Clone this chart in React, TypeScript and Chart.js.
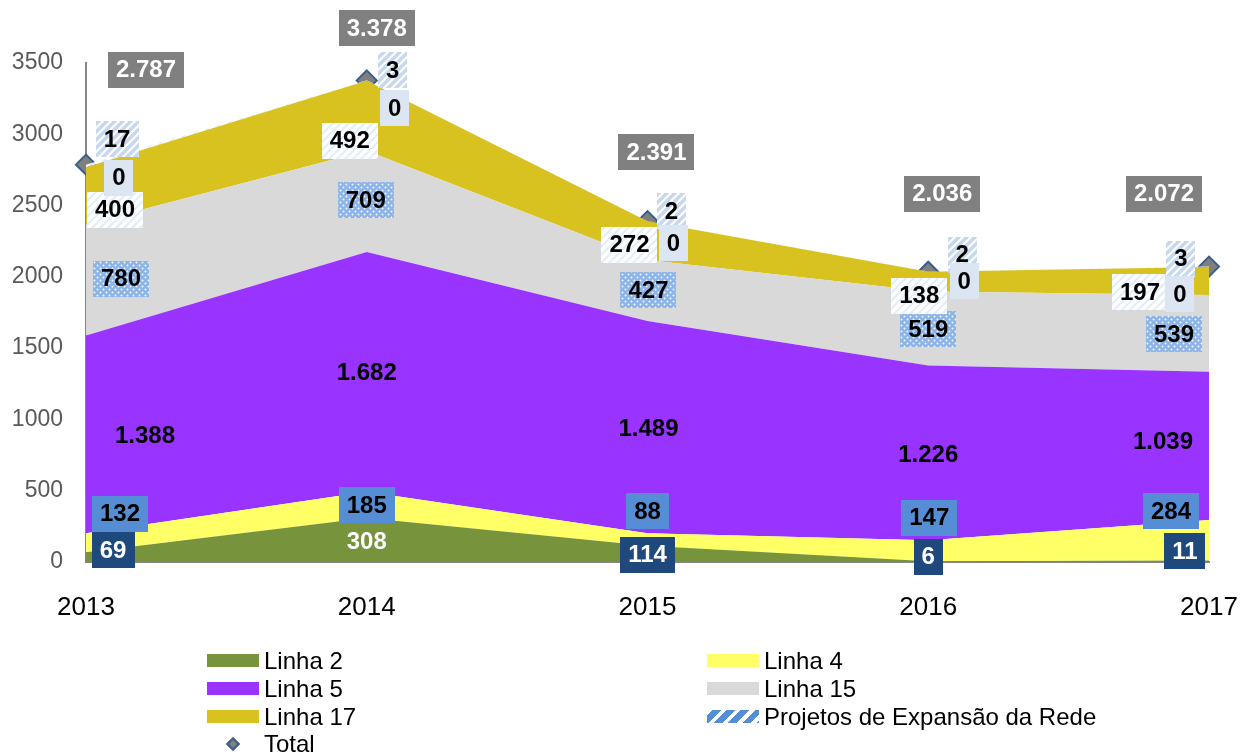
import React, { useEffect, useRef } from 'react';
import { Chart, registerables } from 'chart.js';

Chart.register(...registerables);

const FONT = '"Liberation Sans", Arial, Helvetica, sans-serif';

// ---- data ----
const YEARS = ['2013', '2014', '2015', '2016', '2017'];
const LINHA2 = [69, 308, 114, 6, 11];
const LINHA4 = [132, 185, 88, 147, 284];
const LINHA5 = [1388, 1682, 1489, 1226, 1039];
const LINHA15 = [780, 709, 427, 519, 539];
const LINHA17 = [400, 492, 272, 138, 197];
const PROJETOS = [17, 3, 2, 2, 3];
const SERIE_ZERO = [0, 0, 0, 0, 0];
const TOTAL = [2787, 3378, 2391, 2036, 2072];
const Y_MIN = 0;
const Y_MAX = 3500;
const Y_STEP = 500;

// ---- label layout (pixel nudges from the anchor, like manual Excel placement) ----
const OFF_L2 = [[27, -7], [0, 1], [0, 1], [0, -5], [-24, -10]];
const OFF_L4 = [[34, -29], [0, 0], [0, -28], [1, -33], [-38, -29]];
const OFF_L5 = [[59, 1], [0, 1], [1, 1], [0, 2], [-46, -5]];
const OFF_L15 = [[35, -1], [-1, -1], [1, 0], [0, 1], [-35, 1]];
const OFF_L17 = [[29, 14], [-17, 25], [-18, 4], [-9, 14], [-69, 11]];
const OFF_PROJ = [[31, -27], [26, -10], [24, -10], [34, -17], [-28, -8]];
const OFF_ZERO = [[33, 13], [28, 28], [26, 22], [36, 10], [-29, 28]];
const OFF_TOTAL = [[60, -95], [10, -52], [9, -69], [14, -78], [-45, -73]];

function fmt(v: number): string {
  return String(v).replace(/\B(?=(\d{3})+(?!\d))/g, '.');
}

function makeTile(size: number, draw: (c: CanvasRenderingContext2D) => void): HTMLCanvasElement {
  const t = document.createElement('canvas');
  t.width = size;
  t.height = size;
  const c = t.getContext('2d')!;
  draw(c);
  return t;
}

function stripeTile(base: string, stripe: string, lw: number, size: number) {
  return makeTile(size, (c) => {
    c.fillStyle = base;
    c.fillRect(0, 0, size, size);
    c.strokeStyle = stripe;
    c.lineWidth = lw;
    c.beginPath();
    c.moveTo(-size, size * 2);
    c.lineTo(size * 2, -size);
    c.moveTo(-size, size);
    c.lineTo(size, -size);
    c.moveTo(0, size * 2);
    c.lineTo(size * 2, 0);
    c.stroke();
  });
}

function dotTile() {
  return makeTile(6, (c) => {
    c.fillStyle = '#8DB4E6';
    c.fillRect(0, 0, 6, 6);
    c.fillStyle = 'rgba(255,255,255,0.9)';
    c.beginPath();
    c.arc(1.5, 1.5, 1, 0, Math.PI * 2);
    c.arc(4.5, 4.5, 1, 0, Math.PI * 2);
    c.fill();
  });
}

const labelPlugin = {
  id: 'valueLabels',
  afterDatasetsDraw(chart: any) {
    const ctx: CanvasRenderingContext2D = chart.ctx;
    const xs = chart.scales.x;
    const ys = chart.scales.y;
    const dotted = ctx.createPattern(dotTile(), 'repeat');
    const stripeBlue = ctx.createPattern(stripeTile('#C6D9F1', '#FFFFFF', 2, 8), 'repeat');
    const stripeWhite = ctx.createPattern(stripeTile('#FFFFFF', '#E3ECF7', 2, 8), 'repeat');

    const stacked = [
      { values: LINHA2, off: OFF_L2, bg: (i: number) => (i === 1 ? null : '#1F497D'), color: '#FFFFFF' },
      { values: LINHA4, off: OFF_L4, bg: () => '#558ED5', color: '#000000' },
      { values: LINHA5, off: OFF_L5, bg: () => null, color: '#000000' },
      { values: LINHA15, off: OFF_L15, bg: () => dotted, color: '#000000' },
      { values: LINHA17, off: OFF_L17, bg: () => stripeWhite, color: '#000000' },
      { values: PROJETOS, off: OFF_PROJ, bg: () => stripeBlue, color: '#000000' },
      { values: SERIE_ZERO, off: OFF_ZERO, bg: () => '#DCE6F2', color: '#000000' },
    ];

    ctx.save();
    ctx.font = `bold 24px ${FONT}`;
    ctx.textAlign = 'center';
    ctx.textBaseline = 'middle';

    const drawLabel = (txt: string, x: number, y: number, bg: any, color: string) => {
      const w = ctx.measureText(txt).width + 16;
      const h = 36;
      if (bg) {
        ctx.fillStyle = bg;
        ctx.fillRect(Math.round(x - w / 2), Math.round(y - h / 2), Math.round(w), h);
      }
      ctx.fillStyle = color;
      ctx.fillText(txt, x, y + 1);
    };

    const cum = YEARS.map(() => 0);
    stacked.forEach((s) => {
      s.values.forEach((v, i) => {
        const mid = cum[i] + v / 2;
        const x = xs.getPixelForValue(i) + s.off[i][0];
        const y = ys.getPixelForValue(mid) + s.off[i][1];
        drawLabel(fmt(v), x, y, s.bg(i), s.color);
      });
      s.values.forEach((v, i) => {
        cum[i] += v;
      });
    });

    TOTAL.forEach((v, i) => {
      const x = xs.getPixelForValue(i) + OFF_TOTAL[i][0];
      const y = ys.getPixelForValue(v) + OFF_TOTAL[i][1];
      drawLabel(fmt(v), x, y, '#808080', '#FFFFFF');
    });
    ctx.restore();
  },
};

const legendRows = [
  [
    { label: 'Linha 2', kind: 'fill', color: '#77933C' },
    { label: 'Linha 4', kind: 'fill', color: '#FFFF66' },
  ],
  [
    { label: 'Linha 5', kind: 'fill', color: '#9933FF' },
    { label: 'Linha 15', kind: 'fill', color: '#D9D9D9' },
  ],
  [
    { label: 'Linha 17', kind: 'fill', color: '#D8C21F' },
    { label: 'Projetos de Expansão da Rede', kind: 'stripe', color: '#558ED5' },
  ],
  [{ label: 'Total', kind: 'diamond', color: '#7F7F7F' }],
];

export default function App() {
  const ref = useRef<HTMLCanvasElement | null>(null);

  useEffect(() => {
    const canvas = ref.current!;
    const pctx = canvas.getContext('2d')!;
    const projArea = pctx.createPattern(stripeTile('#FFFFFF', '#E3ECF7', 2, 8), 'repeat');
    const areaBase = {
      borderWidth: 0,
      borderColor: 'rgba(0,0,0,0)',
      pointRadius: 0,
      pointHoverRadius: 0,
      tension: 0,
      stack: 'linhas',
    };
    const chart = new Chart(canvas, {
      type: 'line',
      data: {
        labels: YEARS,
        datasets: [
          { ...areaBase, label: 'Linha 2', data: LINHA2, backgroundColor: '#77933C', fill: 'origin' },
          { ...areaBase, label: 'Linha 4', data: LINHA4, backgroundColor: '#FFFF66', fill: '-1' },
          { ...areaBase, label: 'Linha 5', data: LINHA5, backgroundColor: '#9933FF', fill: '-1' },
          { ...areaBase, label: 'Linha 15', data: LINHA15, backgroundColor: '#D9D9D9', fill: '-1' },
          { ...areaBase, label: 'Linha 17', data: LINHA17, backgroundColor: '#D8C21F', fill: '-1' },
          { ...areaBase, label: 'Projetos de Expansão da Rede', data: PROJETOS, backgroundColor: projArea as any, fill: '-1' },
          {
            label: 'Total',
            data: TOTAL,
            stack: 'total',
            showLine: false,
            fill: false,
            clip: false,
            pointStyle: 'rectRot',
            pointRadius: 10,
            pointHoverRadius: 10,
            pointBackgroundColor: '#7F7F7F',
            pointBorderColor: '#385D8A',
            pointBorderWidth: 2,
          } as any,
        ],
      },
      options: {
        responsive: false,
        animation: false,
        events: [],
        layout: { autoPadding: false, padding: { left: 0, top: 63, right: 33, bottom: 132 } },
        plugins: { legend: { display: false }, tooltip: { enabled: false } },
        scales: {
          x: {
            type: 'category',
            offset: false,
            grid: { display: false },
            border: { display: true, color: '#868686', width: 2 },
            ticks: { color: '#000000', font: { size: 26, family: FONT }, padding: 22, maxRotation: 0, autoSkip: false },
            afterFit: (s: any) => {
              s.height = 60;
              s.paddingLeft = 0;
              s.paddingRight = 0;
            },
          },
          y: {
            stacked: true,
            min: Y_MIN,
            max: Y_MAX,
            grid: { display: false, drawTicks: false },
            border: { display: true, color: '#868686', width: 2 },
            ticks: {
              stepSize: Y_STEP,
              color: '#595959',
              font: { size: 23, family: FONT },
              padding: 23,
              callback: (v: any) => String(v),
            },
            afterFit: (s: any) => {
              s.width = 86;
              s.paddingTop = 0;
              s.paddingBottom = 0;
            },
          },
        },
      } as any,
      plugins: [labelPlugin],
    });
    return () => chart.destroy();
  }, []);

  const rowTop = [661, 689, 717, 744];
  const colSwatch = [207, 707];
  const colText = [264, 764];

  return (
    <div style={{ position: 'fixed', left: 0, top: 0, width: 1242, height: 754, background: '#fff', fontFamily: FONT }}>
      <canvas ref={ref} width={1242} height={754} style={{ position: 'absolute', left: 0, top: 0, width: 1242, height: 754 }} />
      {legendRows.map((row, r) =>
        row.map((item, c) => {
          const cy = rowTop[r];
          let sw: any;
          if (item.kind === 'diamond') {
            sw = (
              <div
                style={{
                  position: 'absolute',
                  left: 228,
                  top: cy - 5,
                  width: 10,
                  height: 10,
                  background: item.color,
                  border: '2px solid #385D8A',
                  transform: 'rotate(45deg)',
                  boxSizing: 'border-box',
                }}
              />
            );
          } else if (item.kind === 'stripe') {
            sw = (
              <div
                style={{
                  position: 'absolute',
                  left: colSwatch[c],
                  top: cy - 7,
                  width: 52,
                  height: 13,
                  background: 'repeating-linear-gradient(135deg, #ffffff 0px, #ffffff 4px, #558ED5 4px, #558ED5 10px)',
                }}
              />
            );
          } else {
            sw = (
              <div style={{ position: 'absolute', left: colSwatch[c], top: cy - 7, width: 52, height: 13, background: item.color }} />
            );
          }
          return (
            <React.Fragment key={`${r}-${c}`}>
              {sw}
              <div
                style={{
                  position: 'absolute',
                  left: colText[c],
                  top: cy - 14,
                  height: 28,
                  lineHeight: '28px',
                  fontSize: 24,
                  color: '#000',
                  whiteSpace: 'nowrap',
                }}
              >
                {item.label}
              </div>
            </React.Fragment>
          );
        })
      )}
    </div>
  );
}
